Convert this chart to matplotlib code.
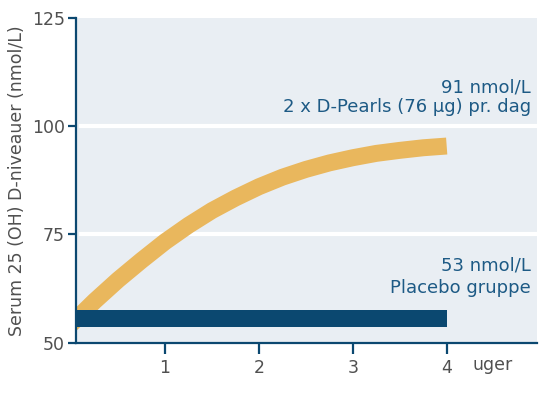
import matplotlib.pyplot as plt

# data
weeks = [0, 0.25, 0.5, 0.75, 1, 1.25, 1.5, 1.75, 2, 2.25, 2.5, 2.75, 3, 3.25, 3.5, 3.75, 4]
dpearls = [54.3, 59.6, 64.5, 69.0, 73.3, 77.1, 80.5, 83.4, 86.0, 88.2, 90.0, 91.5,
           92.7, 93.7, 94.4, 95.0, 95.4]
placebo_end = 4.0
placebo_level = 55.6
xticks = [1, 2, 3, 4]
yticks = [50, 75, 100, 125]
grid_levels = [75, 100]

BLUE = '#0b4870'
ORANGE = '#e9b75d'
BG = '#e9eef3'
TXT_BLUE = '#1d5a85'
GRAY = '#505050'

plt.rcParams['font.family'] = ['DejaVu Sans']

fig = plt.figure(figsize=(5.5, 3.97), dpi=100)
ax = fig.add_axes([0.138, 0.137, 0.838, 0.818])
ax.set_facecolor(BG)

for g in grid_levels:
    ax.axhline(g, xmin=0.01, xmax=1, color='white', lw=3, zorder=1)

# D-Pearls kurve (tykt baand)
ax.plot(weeks, dpearls, color=ORANGE, lw=12.2, solid_capstyle='butt',
        solid_joinstyle='round', zorder=2)

# placebo bjaelke
ax.barh(placebo_level, placebo_end, left=0, height=3.9, color=BLUE, zorder=3)

ax.set_xlim(0.05, 4.96)
ax.set_ylim(50, 125)
ax.set_xticks(xticks)
ax.set_yticks(yticks)

for s in ['top', 'right']:
    ax.spines[s].set_visible(False)
for s in ['left', 'bottom']:
    ax.spines[s].set_color(BLUE)
    ax.spines[s].set_linewidth(1.6)

ax.tick_params(axis='both', colors=BLUE, width=1.6, labelcolor=GRAY, labelsize=12.5)
ax.tick_params(axis='y', length=6, pad=2)
ax.tick_params(axis='x', length=8, pad=4)

ax.set_ylabel('Serum 25 (OH) D-niveauer (nmol/L)', color=GRAY, fontsize=12.5, labelpad=4)

ax.text(4.28, -0.07, 'uger', transform=ax.get_xaxis_transform(), color=GRAY,
        fontsize=12.5, ha='left', va='center')

ax.text(4.9, 109, '91 nmol/L', color=TXT_BLUE, fontsize=13, ha='right', va='center')
ax.text(4.9, 104.3, '2 x D-Pearls (76 µg) pr. dag', color=TXT_BLUE, fontsize=13,
        ha='right', va='center')
ax.text(4.9, 67.7, '53 nmol/L', color=TXT_BLUE, fontsize=13, ha='right', va='center')
ax.text(4.9, 62.6, 'Placebo gruppe', color=TXT_BLUE, fontsize=13, ha='right', va='center')

fig.savefig('out.png', dpi=100)
